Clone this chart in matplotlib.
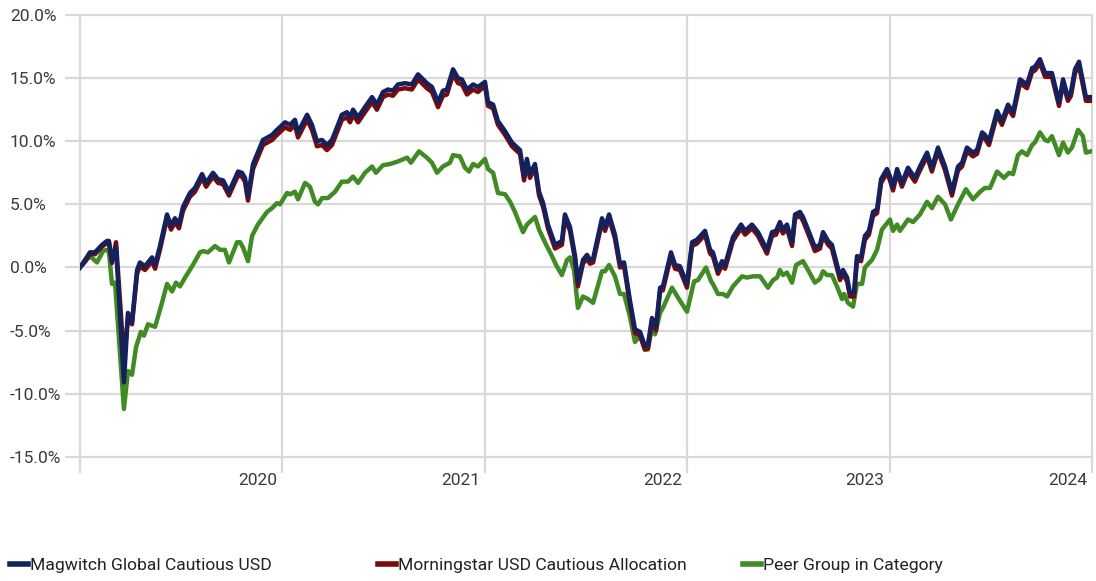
import matplotlib
matplotlib.use('Agg')
import matplotlib.pyplot as plt
from matplotlib.lines import Line2D
from matplotlib.transforms import ScaledTranslation

plt.rcParams['font.family'] = ['Roboto', 'DejaVu Sans']

# time axis in decimal years
fund_t = [
    2019.000, 2019.025, 2019.049, 2019.074, 2019.109, 2019.133, 2019.143, 2019.158, 2019.178, 2019.217,
    2019.237, 2019.257, 2019.282, 2019.296, 2019.321, 2019.356, 2019.371, 2019.395, 2019.430, 2019.450,
    2019.469, 2019.489, 2019.509, 2019.543, 2019.568, 2019.603, 2019.623, 2019.657, 2019.682, 2019.707,
    2019.736, 2019.781, 2019.800, 2019.815, 2019.830, 2019.855, 2019.904, 2019.949, 2019.973,
    2020.013, 2020.038, 2020.062, 2020.077, 2020.122, 2020.146, 2020.171, 2020.196, 2020.220, 2020.245,
    2020.294, 2020.319, 2020.334, 2020.349, 2020.374, 2020.408, 2020.443, 2020.467, 2020.497, 2020.522,
    2020.546, 2020.571, 2020.606, 2020.640, 2020.670, 2020.714, 2020.739, 2020.769, 2020.793, 2020.813,
    2020.843, 2020.868, 2020.887, 2020.912, 2020.942, 2020.966,
    2021.001, 2021.016, 2021.041, 2021.065, 2021.100, 2021.134, 2021.174, 2021.194, 2021.208, 2021.223,
    2021.248, 2021.268, 2021.288, 2021.312, 2021.347, 2021.381, 2021.396, 2021.421, 2021.446, 2021.460,
    2021.485, 2021.505, 2021.520, 2021.535, 2021.579, 2021.594, 2021.614, 2021.643, 2021.668, 2021.688,
    2021.717, 2021.742, 2021.767, 2021.791, 2021.806, 2021.826, 2021.846, 2021.866, 2021.880, 2021.920,
    2021.940, 2021.964, 2021.999,
    2022.024, 2022.048, 2022.088, 2022.113, 2022.127, 2022.152, 2022.172, 2022.187, 2022.226, 2022.266,
    2022.286, 2022.320, 2022.350, 2022.394, 2022.419, 2022.439, 2022.458, 2022.473, 2022.493, 2022.518,
    2022.533, 2022.557, 2022.572, 2022.597, 2022.631, 2022.656, 2022.671, 2022.696, 2022.715, 2022.755,
    2022.770, 2022.790, 2022.804, 2022.824, 2022.839, 2022.859, 2022.878, 2022.898, 2022.918, 2022.938,
    2022.958, 2022.987,
    2023.002, 2023.017, 2023.037, 2023.061, 2023.091, 2023.125, 2023.150, 2023.185, 2023.209, 2023.239,
    2023.274, 2023.308, 2023.338, 2023.358, 2023.382, 2023.412, 2023.432, 2023.457, 2023.471, 2023.491,
    2023.531, 2023.555, 2023.585, 2023.610, 2023.644, 2023.679, 2023.704, 2023.718, 2023.743, 2023.768,
    2023.802, 2023.837, 2023.857, 2023.881, 2023.896, 2023.916, 2023.936, 2023.970, 2023.995,
]

magwitch = [
    0.0, 0.6, 1.2, 1.2, 1.8, 2.1, 2.1, 0.5, 1.6, -9.1,
    -3.6, -4.3, -0.2, 0.4, 0.1, 0.8, 0.2, 1.7, 4.2, 3.3,
    3.9, 3.4, 4.8, 5.9, 6.3, 7.4, 6.7, 7.5, 7.0, 6.9,
    6.0, 7.6, 7.5, 7.1, 5.6, 8.2, 10.1, 10.5, 10.9,
    11.5, 11.3, 11.7, 10.7, 12.1, 11.3, 10.0, 10.1, 9.7, 10.1,
    12.1, 12.3, 11.9, 12.5, 11.9, 12.7, 13.5, 12.9, 13.9, 14.1,
    14.0, 14.5, 14.6, 14.5, 15.3, 14.6, 14.3, 13.1, 14.0, 14.1,
    15.7, 15.0, 14.9, 14.1, 14.5, 14.3,
    14.7, 13.1, 12.9, 11.6, 10.8, 9.9, 9.3, 7.2, 8.6, 7.4,
    8.2, 6.0, 5.1, 3.4, 1.8, 2.1, 4.2, 3.2, 0.9, -1.2,
    0.6, 1.0, 0.6, 0.7, 3.9, 3.2, 4.2, 2.6, 0.3, 0.4,
    -2.6, -4.9, -5.1, -6.2, -6.1, -4.0, -4.7, -1.6, -1.5, 1.2,
    0.2, 0.1, -1.3,
    2.0, 2.2, 2.9, 1.4, 1.2, -0.2, 0.5, 0.2, 2.4, 3.4,
    2.9, 3.4, 2.8, 1.4, 2.8, 2.9, 3.6, 3.0, 3.4, 2.0,
    4.2, 4.4, 4.0, 3.0, 1.6, 1.8, 2.8, 2.1, 1.8, -0.7,
    -0.2, -0.8, -2.0, -2.0, 0.9, 0.8, 2.5, 2.9, 4.4, 4.6,
    7.0, 7.8,
    7.2, 6.4, 7.8, 6.7, 7.9, 7.1, 8.0, 9.1, 7.9, 9.5,
    8.0, 6.0, 8.0, 8.3, 9.5, 9.1, 9.3, 10.7, 10.5, 10.0,
    12.4, 11.6, 12.9, 12.3, 14.9, 14.5, 15.8, 15.9, 16.5, 15.4,
    15.4, 13.1, 14.9, 13.5, 13.9, 15.7, 16.3, 13.5, 13.5,
]

morningstar = [
    0.0, 0.45, 1.05, 1.05, 1.65, 1.95, 1.95, 0.35, 2.0, -7.2,
    -4.0, -4.5, -0.5, 0.1, -0.2, 0.5, -0.1, 1.4, 3.9, 3.0,
    3.6, 3.1, 4.5, 5.6, 6.0, 7.1, 6.4, 7.2, 6.7, 6.6,
    5.7, 7.3, 7.2, 6.8, 5.3, 7.8, 9.7, 10.1, 10.5,
    11.1, 10.9, 11.3, 10.3, 11.7, 10.9, 9.6, 9.7, 9.3, 9.7,
    11.7, 11.9, 11.5, 12.1, 11.5, 12.3, 13.1, 12.5, 13.5, 13.7,
    13.6, 14.1, 14.2, 14.1, 14.9, 14.2, 13.9, 12.7, 13.6, 13.7,
    15.3, 14.6, 14.5, 13.7, 14.1, 13.9,
    14.4, 12.8, 12.6, 11.3, 10.5, 9.6, 9.0, 6.9, 8.3, 7.1,
    7.9, 5.7, 4.8, 3.1, 1.5, 1.8, 3.9, 2.9, 0.6, -1.5,
    0.3, 0.7, 0.3, 0.4, 3.6, 2.9, 3.9, 2.3, 0.0, 0.1,
    -2.9, -5.2, -5.4, -6.5, -6.4, -4.3, -5.0, -1.9, -1.8, 0.9,
    -0.1, -0.2, -1.6,
    1.7, 1.9, 2.6, 1.1, 0.9, -0.5, 0.2, -0.1, 2.1, 3.1,
    2.6, 3.1, 2.5, 1.1, 2.5, 2.6, 3.3, 2.7, 3.1, 1.7,
    3.9, 4.1, 3.7, 2.7, 1.3, 1.5, 2.5, 1.8, 1.5, -1.0,
    -0.5, -1.1, -2.3, -2.3, 0.6, 0.5, 2.2, 2.6, 4.1, 4.3,
    6.7, 7.5,
    6.9, 6.1, 7.5, 6.4, 7.6, 6.8, 7.7, 8.8, 7.6, 9.2,
    7.7, 5.7, 7.7, 8.0, 9.2, 8.8, 9.0, 10.4, 10.2, 9.7,
    12.1, 11.3, 12.6, 12.0, 14.6, 14.2, 15.5, 15.6, 16.2, 15.1,
    15.1, 12.8, 14.6, 13.2, 13.6, 15.4, 16.0, 13.2, 13.2,
]

peer_t = [
    2019.000, 2019.025, 2019.049, 2019.084, 2019.114, 2019.133, 2019.143, 2019.158, 2019.173, 2019.217,
    2019.237, 2019.257, 2019.277, 2019.301, 2019.316, 2019.336, 2019.371, 2019.405, 2019.430, 2019.455,
    2019.474, 2019.494, 2019.519, 2019.558, 2019.593, 2019.608, 2019.632, 2019.667, 2019.692, 2019.716,
    2019.736, 2019.776, 2019.791, 2019.805, 2019.830, 2019.850, 2019.879, 2019.924, 2019.949, 2019.973,
    2019.988,
    2020.023, 2020.038, 2020.062, 2020.077, 2020.112, 2020.136, 2020.161, 2020.176, 2020.196, 2020.225,
    2020.260, 2020.294, 2020.324, 2020.349, 2020.374, 2020.408, 2020.443, 2020.462, 2020.497, 2020.532,
    2020.571, 2020.616, 2020.635, 2020.675, 2020.714, 2020.739, 2020.764, 2020.793, 2020.828, 2020.843,
    2020.877, 2020.902, 2020.922, 2020.942, 2020.966,
    2021.001, 2021.016, 2021.041, 2021.065, 2021.100, 2021.125, 2021.149, 2021.164, 2021.189, 2021.208,
    2021.248, 2021.268, 2021.297, 2021.332, 2021.352, 2021.381, 2021.406, 2021.421, 2021.441, 2021.460,
    2021.485, 2021.510, 2021.535, 2021.579, 2021.594, 2021.614, 2021.643, 2021.668, 2021.688, 2021.717,
    2021.742, 2021.767, 2021.791, 2021.806, 2021.826, 2021.841, 2021.866, 2021.880, 2021.925, 2021.959,
    2021.999,
    2022.034, 2022.053, 2022.093, 2022.118, 2022.127, 2022.152, 2022.177, 2022.197, 2022.226, 2022.271,
    2022.295, 2022.325, 2022.360, 2022.399, 2022.424, 2022.444, 2022.458, 2022.473, 2022.493, 2022.518,
    2022.538, 2022.572, 2022.597, 2022.631, 2022.656, 2022.671, 2022.691, 2022.715, 2022.740, 2022.765,
    2022.775, 2022.794, 2022.819, 2022.839, 2022.864, 2022.878, 2022.913, 2022.938, 2022.962, 2022.987,
    2023.002, 2023.017, 2023.037, 2023.051, 2023.091, 2023.116, 2023.150, 2023.185, 2023.209, 2023.239,
    2023.274, 2023.303, 2023.338, 2023.377, 2023.412, 2023.447, 2023.471, 2023.496, 2023.531, 2023.565,
    2023.590, 2023.610, 2023.634, 2023.654, 2023.679, 2023.704, 2023.718, 2023.743, 2023.768, 2023.783,
    2023.802, 2023.837, 2023.857, 2023.881, 2023.901, 2023.931, 2023.955, 2023.970, 2023.995,
]

peer_group = [
    0.0, 0.5, 0.9, 0.4, 1.3, 1.4, 1.2, -1.3, -1.2, -11.2,
    -8.2, -8.5, -6.3, -5.1, -5.4, -4.5, -4.7, -2.8, -1.3, -1.9,
    -1.2, -1.5, -0.8, 0.2, 1.2, 1.3, 1.2, 1.7, 1.4, 1.4,
    0.4, 2.0, 2.0, 1.6, 0.5, 2.5, 3.4, 4.4, 4.7, 5.1,
    5.0,
    5.9, 5.8, 6.0, 5.4, 6.7, 6.4, 5.2, 5.0, 5.5, 5.5,
    6.0, 6.8, 6.8, 7.2, 6.7, 7.5, 8.0, 7.5, 8.1, 8.2,
    8.4, 8.7, 8.3, 9.2, 8.7, 8.3, 7.5, 8.0, 8.3, 8.9,
    8.8, 7.9, 7.6, 8.2, 8.0,
    8.6, 7.8, 7.5, 5.9, 5.8, 5.2, 4.4, 3.8, 2.8, 3.4,
    4.0, 3.0, 2.0, 0.9, 0.2, -0.6, 0.6, 0.8, -0.2, -3.2,
    -2.3, -2.5, -2.8, -0.3, -0.3, 0.2, -0.7, -2.1, -2.1, -3.9,
    -5.9, -5.4, -6.5, -6.5, -4.7, -5.3, -3.6, -3.2, -1.6, -2.5,
    -3.5,
    -1.1, -1.0, 0.0, -1.1, -1.3, -2.1, -2.1, -2.3, -1.5, -0.7,
    -0.8, -0.7, -0.7, -1.6, -1.0, -0.8, -0.2, -0.6, -0.4, -1.2,
    0.2, 0.5, -0.2, -1.2, -0.9, -0.3, -0.6, -0.6, -1.5, -2.5,
    -2.1, -2.8, -3.1, -1.3, -1.3, 0.0, 0.6, 1.4, 3.0, 3.5,
    3.8, 2.9, 3.4, 2.9, 3.8, 3.6, 4.2, 5.2, 4.7, 5.6,
    5.0, 3.8, 5.0, 6.2, 5.4, 6.0, 6.3, 6.3, 7.6, 7.1,
    7.5, 7.4, 8.9, 9.2, 8.9, 9.7, 9.9, 10.7, 10.1, 10.0,
    10.4, 8.9, 9.9, 9.1, 9.5, 10.9, 10.4, 9.1, 9.2,
]

year_ticks = [2019, 2020, 2021, 2022, 2023, 2024]
year_labels = ['', '2020', '2021', '2022', '2023', '2024']
pct_ticks = [-15, -10, -5, 0, 5, 10, 15, 20]
series_names = ['Magwitch Global Cautious USD', 'Morningstar USD Cautious Allocation',
                'Peer Group in Category']

navy = '#14215f'
dark_red = '#7a0b0b'
green = '#418b24'
grid_c = '#d9d9d9'
text_c = '#3a3a3a'

W, H = 1096, 581
fig = plt.figure(figsize=(W / 100, H / 100), dpi=100)
ax = fig.add_axes([80 / W, 1 - 472 / H, (1092 - 80) / W, (472 - 15) / H])

ax.plot(peer_t, peer_group, color=green, lw=3.2, zorder=3)
ax.plot(fund_t, morningstar, color=dark_red, lw=3.2, zorder=4)
ax.plot(fund_t, magwitch, color=navy, lw=3.2, zorder=5)

ax.set_xlim(2019, 2024)
ax.set_ylim(-16.2, 20)
ax.set_xticks(year_ticks)
ax.set_xticklabels(year_labels)
ax.set_yticks(pct_ticks)
ax.set_yticklabels([f'{v:.1f}%' for v in pct_ticks])

ax.grid(True, color=grid_c, lw=1.6)
ax.set_axisbelow(True)
for ln in ax.get_xgridlines() + ax.get_ygridlines():
    ln.set_clip_on(False)
for s in ax.spines.values():
    s.set_visible(False)

ax.tick_params(axis='y', length=10.8, width=1.6, color=grid_c, pad=39.6,
               labelsize=12.5, labelcolor=text_c)
for lab in ax.get_yticklabels():
    lab.set_horizontalalignment('left')
ax.tick_params(axis='x', length=0, pad=1, labelsize=12.5, labelcolor=text_c)
shift = ScaledTranslation(-5 / 100, 0, fig.dpi_scale_trans)
for lab in ax.get_xticklabels():
    lab.set_horizontalalignment('right')
    lab.set_transform(lab.get_transform() + shift)

# legend: three fixed-width columns along the bottom
for name, col, x0 in zip(series_names, [navy, dark_red, green], [10, 378, 743]):
    h = Line2D([], [], color=col, lw=4)
    fig.legend(handles=[h], labels=[name], loc='center left',
               bbox_to_anchor=(x0 / W, 1 - 565 / H), frameon=False,
               handlelength=1.0, handletextpad=0.15, borderpad=0, borderaxespad=0,
               fontsize=12.6, labelcolor='#222222')

fig.savefig('out.png', dpi=100)
